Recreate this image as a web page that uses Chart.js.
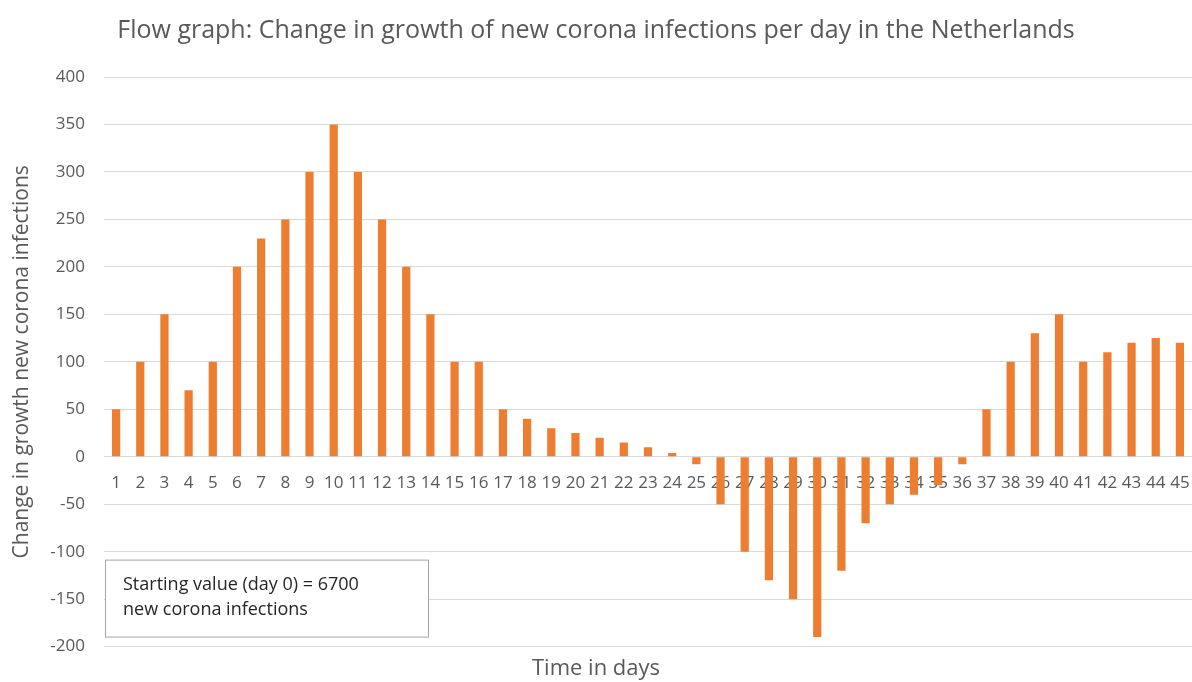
<!DOCTYPE html>
<html>
<head>
<meta charset="utf-8">
<script src="https://cdn.jsdelivr.net/npm/chart.js@4"></script>
<style>
  html, body { margin: 0; padding: 0; background: #ffffff; }
  #wrap { width: 1192px; height: 682px; }
</style>
</head>
<body>
<div id="wrap"><canvas id="c" width="1192" height="682"></canvas></div>
<script>
// Days 1..45 and the day-on-day change in growth of new infections
const days = ['1','2','3','4','5','6','7','8','9','10','11','12','13','14','15','16','17','18','19','20','21','22','23','24','25','26','27','28','29','30','31','32','33','34','35','36','37','38','39','40','41','42','43','44','45'];
const growthChange = [50, 100, 150, 70, 100, 200, 230, 250, 300, 350, 300, 250, 200, 150, 100, 100, 50, 40, 30, 25, 20, 15, 10, 4, -8, -50, -100, -130, -150, -190, -120, -70, -50, -40, -30, -8, 50, 100, 130, 150, 100, 110, 120, 125, 120];
const yTicks = [-200, -150, -100, -50, 0, 50, 100, 150, 200, 250, 300, 350, 400];
const noteLines = ['Starting value (day 0) = 6700', 'new corona infections'];

const FONT = '"Open Sans", "Noto Sans", sans-serif';
const GREY = '#595959';

// Framed note in the lower-left corner of the plot
const notePlugin = {
  id: 'noteBox',
  afterDraw(chart) {
    const { ctx, chartArea } = chart;
    const x = chartArea.left + 1;
    const y = chartArea.bottom - 87;
    const w = 323, h = 77;
    ctx.save();
    ctx.fillStyle = '#ffffff';
    ctx.fillRect(x, y, w, h);
    ctx.strokeStyle = '#a6a6a6';
    ctx.lineWidth = 1;
    ctx.strokeRect(x + 0.5, y + 0.5, w, h);
    ctx.fillStyle = '#262626';
    ctx.font = '18px ' + FONT;
    ctx.textBaseline = 'middle';
    noteLines.forEach((t, i) => ctx.fillText(t, x + 18, y + 25 + i * 25));
    ctx.restore();
  }
};

new Chart(document.getElementById('c'), {
  type: 'bar',
  data: {
    labels: days,
    datasets: [{
      data: growthChange,
      backgroundColor: '#ED7D31',
      borderWidth: 0,
      barPercentage: 0.34,
      categoryPercentage: 1.0
    }]
  },
  options: {
    responsive: false,
    animation: false,
    layout: { padding: { left: 0, right: 0, top: 0, bottom: 0 } },
    plugins: {
      legend: { display: false },
      tooltip: { enabled: false },
      title: {
        display: true,
        text: 'Flow graph: Change in growth of new corona infections per day in the Netherlands',
        color: GREY,
        font: { family: FONT, size: 25, weight: 'normal' },
        padding: { top: 16, bottom: 31 }
      },
      subtitle: {
        display: true,
        position: 'bottom',
        text: 'Time in days',
        color: GREY,
        font: { family: FONT, size: 22, weight: 'normal' },
        padding: { top: 9, bottom: 0 }
      }
    },
    scales: {
      x: {
        position: { y: 0 },
        grid: { display: false, drawTicks: false },
        border: { display: true, color: '#d9d9d9', width: 1 },
        ticks: {
          color: GREY,
          font: { family: FONT, size: 17 },
          autoSkip: false,
          maxRotation: 0,
          minRotation: 0,
          padding: 16
        },
        afterFit(scale) { scale.paddingLeft = 0; scale.paddingRight = 0; }
      },
      y: {
        min: -200,
        max: 400,
        afterBuildTicks(axis) { axis.ticks = yTicks.map(v => ({ value: v })); },
        grid: { color: '#d9d9d9', lineWidth: 1, drawTicks: false },
        border: { display: false },
        ticks: {
          color: GREY,
          font: { family: FONT, size: 17 },
          padding: 19
        },
        title: {
          display: true,
          text: 'Change in growth new corona infections',
          color: GREY,
          font: { family: FONT, size: 21, weight: 'normal' },
          padding: { top: 9, bottom: 0 }
        },
        afterFit(scale) { scale.width = 104; }
      }
    }
  },
  plugins: [notePlugin]
});
</script>
</body>
</html>
